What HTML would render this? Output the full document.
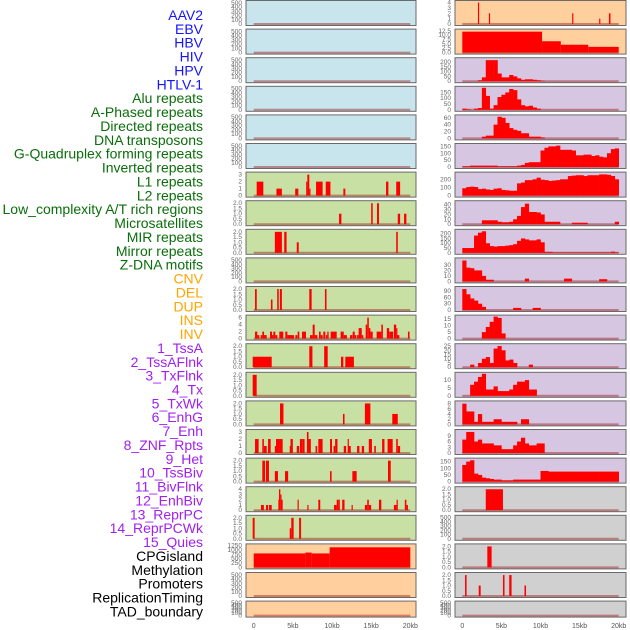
<!DOCTYPE html>
<html><head><meta charset="utf-8"><style>
body{margin:0;background:#fff;}
svg{display:block;font-family:"Liberation Sans",sans-serif;}
</style></head><body>
<svg id="chart" width="630" height="630" viewBox="0 0 630 630"></svg>
<script>
// ---- track labels ----
const labelNames = ["AAV2","EBV","HBV","HIV","HPV","HTLV-1","Alu repeats","A-Phased repeats","Directed repeats","DNA transposons","G-Quadruplex forming repeats","Inverted repeats","L1 repeats","L2 repeats","Low_complexity A/T rich regions","Microsatellites","MIR repeats","Mirror repeats","Z-DNA motifs","CNV","DEL","DUP","INS","INV","1_TssA","2_TssAFlnk","3_TxFlnk","4_Tx","5_TxWk","6_EnhG","7_Enh","8_ZNF_Rpts","9_Het","10_TssBiv","11_BivFlnk","12_EnhBiv","13_ReprPC","14_ReprPCWk","15_Quies","CPGisland","Methylation","Promoters","ReplicationTiming","TAD_boundary"];
const labelGroups = [0,0,0,0,0,0,1,1,1,1,1,1,1,1,1,1,1,1,1,2,2,2,2,2,3,3,3,3,3,3,3,3,3,3,3,3,3,3,3,4,4,4,4,4];
const groupColors = ["#1414ff","#0a6e0a","#ffa500","#a020f0","#000000"];

// ---- x axis ----
const xTickValues = [0,5,10,15,20];
const xTickLabels = ["0","5kb","10kb","15kb","20kb"];

// ---- tick sets ----
const t500 = [0,100,200,300,400,500];
const t2 = [0,0.5,1,1.5,2];
const t3 = [0,1,2,3];
const t4 = [0,1,2,3,4];
const t6 = [0,2,4,6];
const tMeth = [0,250,500,750,1000,1250];
const tEbv = [0,2.5,5,7.5,10,12.5];

// ---- left column bars [startKb, endKb, value] ----
const left6 = [[0.38,1.23,2],[2.9,3.6,1],[5.3,5.7,1],[6.7,6.85,2],[6.85,7.1,3],[7.1,7.25,1],[7.96,8.8,2],[9.2,9.8,2],[11.45,11.7,1],[16.9,17.2,2],[18.2,18.7,2]];
const left7 = [[10.9,11.2,1],[15.0,15.2,2],[15.75,16.0,2],[18.4,18.7,1],[19.2,19.5,1]];
const left8 = [[2.7,3.6,2],[3.9,4.2,2],[5.5,5.75,1],[18.2,18.4,2]];
const left10 = [[0.17,0.39,2],[2.2,2.4,1],[3.0,3.2,2],[3.35,3.6,2],[7.1,7.4,2],[9.1,9.3,2]];
const left11 = [[0.17,0.46,2],[0.46,0.72,1],[0.89,1.1,1],[1.1,1.32,2],[1.32,1.66,1],[2.08,2.34,2],[2.34,2.51,1],[2.51,2.76,2],[2.76,3.02,1],[3.27,3.78,2],[4.04,4.3,2],[4.3,5.15,1],[5.32,5.57,1],[5.61,5.83,2],[6.17,6.68,2],[7.19,7.53,1],[7.53,7.79,4],[7.79,8.13,1],[8.34,8.55,2],[8.55,8.81,1],[8.89,9.15,2],[9.23,9.4,1],[9.4,9.57,2],[9.83,10.6,2],[11.1,11.5,2],[11.5,11.9,1],[12.3,12.6,1],[12.64,12.9,2],[12.9,13.1,1],[13.2,13.4,1],[13.4,13.8,3],[13.8,14.0,1],[14.3,14.5,4],[14.5,14.7,6],[14.7,14.9,3],[14.9,15.2,2],[15.7,16.3,2],[16.3,16.5,4],[17.0,17.3,3],[17.3,17.8,2],[17.9,18.2,4],[18.2,18.3,3],[18.3,18.6,1],[19.7,19.9,2]];
const left12 = [[-0.13,2.3,1],[7.1,7.5,2],[9.0,9.45,2],[11.15,11.45,1],[11.7,12.8,1]];
const left13 = [[-0.13,0.38,2]];
const left14 = [[3.36,3.8,2],[11.4,11.6,1],[14.2,14.9,2],[17.7,18.4,1]];
const left15 = [[0.17,0.63,2],[1.1,1.3,2],[1.3,1.66,1],[1.83,2.17,2],[2.7,2.85,1],[2.85,3.3,2],[3.3,3.7,2],[4.6,4.7,1],[4.7,5.0,2],[5.5,5.8,1],[5.9,6.2,2],[6.2,6.5,2],[6.8,7.0,3],[7.0,7.3,2],[7.9,8.1,1],[8.25,8.8,2],[9.75,10.0,2],[10.2,10.4,1],[10.4,10.7,2],[11.5,11.8,1],[12.0,12.1,2],[12.1,12.4,1],[13.2,13.5,1],[13.8,14.1,1],[14.7,15.1,2],[15.4,15.6,1],[16.4,16.7,2],[17.1,17.75,2],[18.2,18.4,2],[18.4,18.7,1]];
const left16 = [[1.1,1.45,2],[1.57,1.95,2],[2.7,3.1,1],[4.0,4.4,1],[9.75,9.95,1],[12.6,13.15,1],[17.15,17.5,2]];
const left17 = [[0.93,1.3,1],[1.57,1.83,1],[1.95,2.3,1],[3.15,3.23,2],[3.23,3.4,4],[3.4,3.5,3],[3.5,3.7,2],[5.6,5.75,2],[6.85,7.0,1],[8.25,8.5,2],[10.25,10.6,1],[10.6,10.8,2],[10.8,11.0,2],[11.3,11.6,2],[12.5,12.65,1],[14.2,14.5,1],[14.5,14.7,2],[14.7,15.0,1],[16.0,16.3,2],[17.9,18.25,1],[18.25,18.4,2],[19.3,19.5,2],[19.5,19.7,1]];
const left18 = [[-0.13,0.12,2],[4.6,4.8,1],[4.8,5.1,2],[5.8,6.05,2]];
const left19 = [[0,6.6,800],[6.6,7.4,850],[7.4,9.7,800],[9.7,20,1150]];

// ---- right column bars ----
const right0 = [[2.0,2.15,4],[3.4,3.55,2],[14.05,14.2,2],[17.5,17.65,1],[18.75,18.95,2]];
const right1 = [[0,10.2,12],[10.2,12.6,6.5],[12.6,16.1,4.5],[16.1,20,3.3]];
const right17 = [[3.0,5.2,2]];
const right19 = [[3.2,3.75,2]];
const right20 = [[0.35,0.55,2],[2.1,2.35,1],[5.2,5.4,2],[6.0,6.3,2],[7.95,8.15,1]];

// ---- right column profiles (0.5 kb bins from 0 to 20 kb) ----
const prof2 = [0,0,0,0,10,40,220,220,220,80,40,40,65,50,30,15,20,20,15,10,5];
const prof3 = [10,5,0,10,15,190,120,10,40,110,130,150,180,170,90,40,30,35,20,10];
const prof4 = [0,0,0,0,0,5,8,8,40,63,60,45,30,25,22,15,15,5,5,5,3];
const prof5 = [5,5,10,10,10,10,10,10,10,5,5,5,5,5,10,15,30,35,35,35,120,140,150,150,155,125,125,125,120,85,85,90,90,80,85,75,70,100,130,135];
const prof6 = [90,105,110,105,80,85,75,70,85,90,70,65,60,60,150,160,190,190,200,220,195,190,180,185,190,200,200,240,245,250,250,240,250,250,250,260,260,255,240,200];
const prof7 = [0,0,0,0,0,8,8,8,8,5,4,4,5,10,17,35,42,25,25,24,20,5,5,5,5,0,0,0,3,3,3,3,0,0,0,0,0,0,0,5];
const prof8 = [50,50,50,180,210,225,100,70,65,70,70,75,80,90,125,150,140,130,130,140,110,10,10,5,5,5,5,5,5,5,5,5,5,5,5,5,5,5,12,5];
const prof9 = [38,25,24,20,20,10,3,3,0,0,0,0,0,0,0,0,5,0,0,0,0,0,0,0,0,0,5,5,0,0,0,0,0,0,0,4,4];
const prof10 = [100,75,55,45,30,15,0,0,0,0,0,0,0,10,10,0,0,0,10,10];
const prof11 = [0,0,0,0,0,5,9,13,17,16,4];
const prof12 = [0,0,3,0,5,10,12,5,22,25,20,8,9,5,0,0,0,3];
const prof13 = [0,0,7,9,12,14,4,4,6,3,3,3,4,7,9,9,10,4,4];
const prof14 = [8,5,5,1,4,1,1,1,2,2,1,1,1,1,0,2,2];
const prof15 = [7,11,11,6,7,5,5,5,4,4,2,2,2,4,6,8,5,4,4,5,5];
const prof16 = [125,150,160,60,50,30,25,20,15,15,10,10,10,15,15,15,15,15,15,15,80,80,75,75,75,75,75,75,75,75,75,75,75,75,75,75,75,75,75,75];

// ---- panel definitions ----
const BLUE="#c8e4ec", GREEN="#c8e0a4", ORANGE="#ffd09e", PURPLE="#d6c6e2", GREY="#d0d0d0";
const leftPanels = [
 {bg:BLUE,t:t500,ymax:520},{bg:BLUE,t:t500,ymax:520},{bg:BLUE,t:t500,ymax:520},
 {bg:BLUE,t:t500,ymax:520},{bg:BLUE,t:t500,ymax:520},{bg:BLUE,t:t500,ymax:520},
 {bg:GREEN,t:t3,ymax:3.15,bars:left6},{bg:GREEN,t:t2,ymax:2.1,bars:left7,dec:1},
 {bg:GREEN,t:t2,ymax:2.1,bars:left8,dec:1},{bg:GREEN,t:t500,ymax:520},
 {bg:GREEN,t:t2,ymax:2.1,bars:left10,dec:1},{bg:GREEN,t:t6,ymax:6.3,bars:left11},
 {bg:GREEN,t:t2,ymax:2.1,bars:left12,dec:1},{bg:GREEN,t:t2,ymax:2.1,bars:left13,dec:1},
 {bg:GREEN,t:t2,ymax:2.1,bars:left14,dec:1},{bg:GREEN,t:t3,ymax:3.15,bars:left15},
 {bg:GREEN,t:t2,ymax:2.1,bars:left16,dec:1},{bg:GREEN,t:t4,ymax:4.2,bars:left17},
 {bg:GREEN,t:t2,ymax:2.1,bars:left18,dec:1},{bg:ORANGE,t:tMeth,ymax:1260,bars:left19},
 {bg:ORANGE,t:t500,ymax:520},{bg:ORANGE,t:t500,ymax:520}
];
const rightPanels = [
 {bg:ORANGE,t:t4,ymax:4.1,bars:right0},{bg:ORANGE,t:tEbv,ymax:12.6,bars:right1,dec:1},
 {bg:PURPLE,t:[0,50,100,150,200],ymax:230,prof:prof2},{bg:PURPLE,t:[0,50,100,150],ymax:190,prof:prof3},
 {bg:PURPLE,t:[0,20,40,60],ymax:64,prof:prof4},{bg:PURPLE,t:[0,50,100,150],ymax:160,prof:prof5},
 {bg:PURPLE,t:[0,100,200],ymax:270,prof:prof6},{bg:PURPLE,t:[0,10,20,30,40],ymax:45,prof:prof7},
 {bg:PURPLE,t:[0,50,100,150,200],ymax:230,prof:prof8},{bg:PURPLE,t:[0,10,20,30],ymax:40,prof:prof9},
 {bg:PURPLE,t:[0,30,60,90],ymax:105,prof:prof10},{bg:PURPLE,t:[0,5,10,15],ymax:17,prof:prof11},
 {bg:PURPLE,t:[0,5,10,15,20,25],ymax:26,prof:prof12},{bg:PURPLE,t:[0,5,10],ymax:14,prof:prof13},
 {bg:PURPLE,t:[0,2,4,6,8],ymax:8.5,prof:prof14},{bg:PURPLE,t:[0,3,6,9],ymax:11.5,prof:prof15},
 {bg:PURPLE,t:[0,50,100,150],ymax:165,prof:prof16},{bg:GREY,t:t2,ymax:2.1,bars:right17,dec:1},
 {bg:GREY,t:t500,ymax:520},{bg:GREY,t:t2,ymax:2.1,bars:right19,dec:1},
 {bg:GREY,t:t2,ymax:2.1,bars:right20,dec:1},{bg:GREY,t:t500,ymax:520}
];

const NS="http://www.w3.org/2000/svg";
const svg=document.getElementById('chart');
function mk(tag,attrs,parent){const e=document.createElementNS(NS,tag);for(const k in attrs)e.setAttribute(k,attrs[k]);(parent||svg).appendChild(e);return e;}

// labels
labelNames.forEach((name,i)=>{
  const t=mk('text',{x:203,y:(15+13.87*i+5).toFixed(1),'text-anchor':'end','font-size':'14',fill:groupColors[labelGroups[i]]});
  
  
  t.textContent=name;
});

const cols=[{x0:246,x1:416,z:253.7,s:7.83,panels:leftPanels,side:'left'},{x0:455,x1:626,z:462.3,s:7.82,panels:rightPanels,side:'right'}];
function rowTop(i){return 0.5+i*28.6;}
function rowH(i){return i===21?16:25;}

cols.forEach(col=>{
  const xs=kb=>col.z+kb*col.s;
  col.panels.forEach((p,i)=>{
    const top=rowTop(i),h=rowH(i),bot=top+h;
    const y0=bot-1.5,y1=top+1.5;
    const ys=v=>y0-(v/p.ymax)*(y0-y1);
    const g=mk('g',{});
    
    
    const r=mk('rect',{x:col.x0,y:top,width:col.x1-col.x0,height:h,fill:p.bg,stroke:'#6a6a6a','stroke-width':1},g);
    
    
    // ticks
    p.t.forEach(v=>{
      const tt=mk('text',{x:col.x0-4,y:(ys(v)+2).toFixed(1),'text-anchor':'end','font-size':'6.5',fill:'#666'},g);
      
      
      tt.textContent=p.dec?v.toFixed(1):String(v);
    });
    // baseline
    const bl=mk('line',{x1:xs(0),x2:xs(20),y1:y0,y2:y0,stroke:'rgba(150,0,0,0.4)','stroke-width':2},g);
    
    
    if(p.bars){
      p.bars.forEach(b=>{
        const yy=ys(b[2]);
        const br=mk('rect',{x:xs(b[0]).toFixed(2),y:yy.toFixed(2),width:Math.max(1.2,xs(b[1])-xs(b[0])).toFixed(2),height:(y0-yy).toFixed(2),fill:'#ff0000'},g);
        
        
      });
    }
    if(p.prof){
      p.prof.forEach((v,k)=>{
        if(!v)return;
        const yy=ys(v);
        const br=mk('rect',{x:xs(k*0.5).toFixed(2),y:yy.toFixed(2),width:(0.5*col.s+0.3).toFixed(2),height:(y0-yy).toFixed(2),fill:'#ff0000'},g);
        
        
      });
    }
  });
  xTickValues.forEach((v,k)=>{
    const t=mk('text',{x:xs(v),y:628,'text-anchor':'middle','font-size':'7',fill:'#555'});
    
    
    t.textContent=xTickLabels[k];
  });
});
</script>
</body></html>
